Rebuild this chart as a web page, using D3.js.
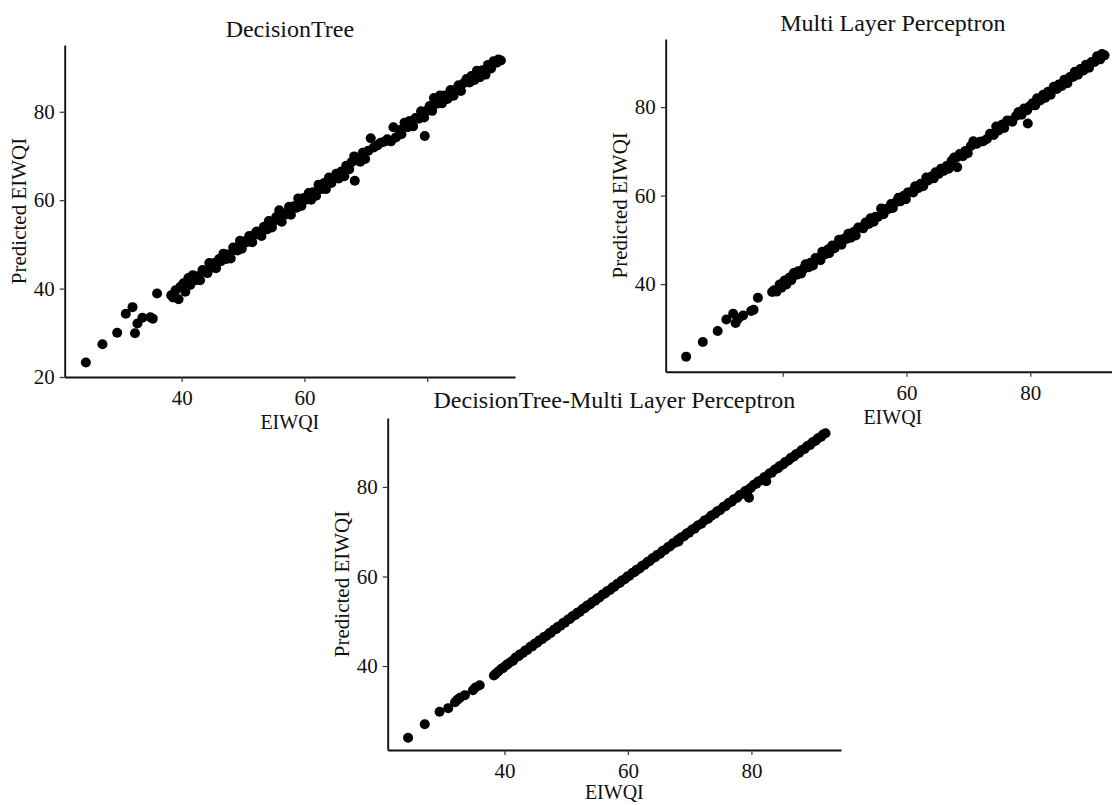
<!DOCTYPE html>
<html>
<head>
<meta charset="utf-8">
<script src="https://cdn.jsdelivr.net/npm/d3@7"></script>
<style>
  html, body { margin: 0; padding: 0; background: #fff; }
  svg { display: block; }
  text { font-family: "Liberation Serif", "Times New Roman", serif; fill: #111; }
</style>
</head>
<body>
<svg id="chart" width="1112" height="805"></svg>
<script>
// ---- Data ----
const panelTitles = ["DecisionTree", "Multi Layer Perceptron", "DecisionTree-Multi Layer Perceptron"];
const xLabel = "EIWQI";
const yLabel = "Predicted EIWQI";
const xTickValues = [40, 60, 80];
const yTicksPanel1 = [20, 40, 60, 80];
const yTicksOther = [40, 60, 80];

const observed = [
  24.4, 27.1, 29.5, 30.9, 32.0, 32.4, 32.8, 33.6, 34.9, 35.3,
  36.0, 38.3, 38.6, 39.0, 39.5, 39.8, 40.3, 40.6, 41.1, 41.4,
  41.8, 42.3, 42.5, 43.0, 43.4, 43.7, 44.2, 44.5, 44.9, 45.3,
  45.6, 46.1, 46.4, 46.8, 47.3, 47.5, 48.0, 48.4, 48.6, 49.1,
  49.5, 49.8, 50.3, 50.6, 51.0, 51.5, 51.8, 52.2, 52.7, 53.0,
  53.4, 53.9, 54.2, 54.7, 55.0, 55.4, 55.9, 56.3, 56.6, 57.1,
  57.5, 57.8, 58.3, 58.7, 59.0, 59.5, 59.9, 60.2, 60.7, 61.1,
  61.4, 61.9, 62.3, 62.7, 63.2, 63.5, 64.0, 64.4, 64.7, 65.2,
  65.6, 66.0, 66.5, 66.8, 67.3, 67.7, 68.1, 68.2, 68.6, 69.1,
  69.5, 69.9, 70.4, 70.8, 71.3, 71.9, 72.4, 73.0, 73.5, 74.1,
  74.5, 74.9, 75.5, 75.8, 76.3, 76.8, 77.1, 77.7, 78.1, 78.6,
  79.0, 79.5, 79.6, 79.9, 80.4, 80.8, 81.1, 81.6, 82.1, 82.4,
  82.9, 83.3, 83.8, 84.3, 84.6, 85.1, 85.5, 86.0, 86.4, 86.9,
  87.2, 87.7, 88.1, 88.6, 89.0, 89.5, 89.9, 90.4, 90.8, 91.3,
  91.6, 92.0
];

const predDecisionTree = [
  23.3, 27.4, 30.0, 34.3, 35.8, 29.9, 32.1, 33.4, 33.5, 33.2,
  38.9, 38.5, 38.0, 39.6, 37.6, 40.4, 41.2, 39.3, 42.4, 40.8,
  43.0, 41.9, 42.8, 41.9, 44.2, 43.8, 43.5, 45.8, 44.7, 45.8,
  44.6, 46.7, 46.2, 47.9, 46.7, 47.7, 46.8, 49.3, 48.7, 48.6,
  50.8, 49.0, 50.7, 50.5, 51.9, 50.5, 52.1, 52.9, 52.3, 51.9,
  54.0, 53.4, 55.3, 53.8, 55.2, 56.2, 57.7, 55.1, 57.0, 56.8,
  58.5, 56.7, 58.6, 58.3, 60.4, 58.7, 60.5, 60.1, 61.6, 60.1,
  61.8, 61.0, 63.5, 62.5, 63.9, 62.5, 65.1, 63.9, 64.8, 66.0,
  64.9, 66.5, 65.4, 67.8, 67.0, 68.6, 69.9, 64.4, 69.2, 68.7,
  70.7, 69.3, 71.2, 74.0, 71.9, 72.4, 73.0, 73.2, 73.8, 73.3,
  76.5, 74.2, 75.9, 74.9, 77.5, 76.5, 77.9, 76.7, 78.6, 78.4,
  80.1, 78.7, 74.5, 80.2, 81.3, 80.2, 83.1, 81.8, 83.7, 81.9,
  83.7, 82.9, 84.9, 83.6, 84.9, 86.0, 84.7, 86.5, 87.4, 86.6,
  88.1, 87.2, 89.3, 87.8, 89.4, 88.4, 90.6, 89.8, 91.4, 91.1,
  91.8, 91.6
];

const predMLP = [
  23.6, 26.9, 29.4, 32.0, 33.3, 31.2, 32.2, 32.9, 33.9, 34.2,
  36.9, 38.2, 38.6, 38.3, 39.9, 39.2, 40.8, 39.9, 41.5, 40.9,
  42.5, 42.1, 42.9, 42.4, 43.5, 44.5, 43.8, 44.8, 44.2, 45.9,
  45.8, 45.4, 47.3, 46.7, 47.8, 47.0, 48.7, 48.1, 48.8, 50.0,
  48.9, 50.2, 50.2, 51.4, 50.5, 51.8, 51.0, 52.8, 52.8, 52.6,
  53.9, 53.6, 54.9, 54.1, 55.2, 55.2, 57.1, 55.8, 57.0, 57.0,
  58.1, 57.2, 58.5, 59.5, 58.7, 59.9, 59.2, 60.7, 60.8, 60.7,
  62.1, 61.7, 62.7, 62.1, 64.1, 63.4, 64.3, 63.9, 65.3, 64.9,
  66.1, 65.6, 66.7, 66.1, 67.9, 68.6, 68.6, 66.4, 69.4, 68.9,
  70.1, 69.6, 71.2, 72.3, 71.7, 72.2, 72.3, 72.8, 74.0, 73.7,
  75.6, 74.7, 76.1, 75.3, 77.0, 76.9, 76.7, 78.0, 78.9, 78.3,
  79.7, 79.3, 76.3, 80.2, 80.9, 80.4, 82.0, 81.5, 82.8, 82.1,
  83.5, 82.8, 84.6, 84.1, 85.1, 84.8, 86.2, 85.4, 86.8, 86.8,
  88.0, 87.3, 88.6, 88.3, 89.6, 88.9, 90.2, 90.2, 91.5, 90.8,
  92.0, 91.7
];

const predCombined = [
  24.0, 27.0, 29.8, 30.6, 31.9, 32.5, 32.9, 33.5, 34.6, 35.2,
  35.7, 37.9, 38.3, 38.8, 39.4, 39.6, 40.2, 40.5, 41.0, 41.2,
  41.9, 42.2, 42.6, 42.9, 43.5, 43.6, 44.3, 44.4, 45.0, 45.2,
  45.7, 46.0, 46.5, 46.7, 47.4, 47.4, 48.1, 48.3, 48.7, 49.0,
  49.6, 49.7, 50.4, 50.5, 51.1, 51.4, 51.9, 52.1, 52.8, 52.9,
  53.5, 53.8, 54.3, 54.6, 55.1, 55.3, 56.0, 56.2, 56.7, 57.0,
  57.6, 57.7, 58.4, 58.6, 59.1, 59.4, 60.0, 60.1, 60.8, 61.0,
  61.5, 61.8, 62.4, 62.6, 63.3, 63.4, 64.1, 64.3, 64.8, 65.1,
  65.7, 65.9, 66.6, 66.7, 67.4, 67.6, 68.2, 67.8, 68.7, 69.0,
  69.6, 69.8, 70.5, 70.7, 71.4, 71.8, 72.5, 72.9, 73.6, 74.0,
  74.6, 74.8, 75.6, 75.7, 76.4, 76.7, 77.2, 77.6, 78.2, 78.5,
  79.1, 79.4, 77.6, 79.8, 80.5, 80.7, 81.2, 81.5, 82.2, 81.3,
  83.0, 83.2, 83.9, 84.2, 84.7, 85.0, 85.6, 85.9, 86.5, 86.8,
  87.3, 87.6, 88.2, 88.5, 89.1, 89.4, 90.0, 90.3, 90.9, 91.2,
  91.7, 92.0
];

// ---- Layout ----
const panels = [
  { title: panelTitles[0], pred: predDecisionTree, left: 64.7, right: 515, top: 45, bottom: 377,
    xDom: [20.95, 94.3], yDom: [20, 95.1], yTicks: yTicksPanel1, titleY: 37, hiddenX: [80], xTitleDy: 52 },
  { title: panelTitles[1], pred: predMLP, left: 665.7, right: 1120, top: 39, bottom: 371.7,
    xDom: [21.1, 94.5], yDom: [20.2, 95.4], yTicks: yTicksOther, titleY: 31, hiddenX: [], xTitleDy: 52 },
  { title: panelTitles[2], pred: predCombined, left: 387.7, right: 841, top: 418, bottom: 750,
    xDom: [21.1, 94.5], yDom: [21.25, 95.4], yTicks: yTicksOther, titleY: 408, hiddenX: [], xTitleDy: 49, cover: true }
];

const svg = d3.select("#chart");
svg.append("rect").attr("width", 1112).attr("height", 805).attr("fill", "#fff");

panels.forEach(p => {
  const g = svg.append("g");
  if (p.cover) {
    g.append("rect").attr("x", 327).attr("y", 386).attr("width", 525).attr("height", 419).attr("fill", "#fff");
  }
  const x = d3.scaleLinear().domain(p.xDom).range([p.left, p.right]);
  const y = d3.scaleLinear().domain(p.yDom).range([p.bottom, p.top]);

  // points
  g.append("g").selectAll("circle")
    .data(observed.map((o, i) => [o, p.pred[i]]))
    .join("circle")
    .attr("cx", d => x(d[0]))
    .attr("cy", d => y(d[1]))
    .attr("r", 5)
    .attr("fill", "#000");

  // axes
  const xa = g.append("g").attr("transform", `translate(0,${p.bottom})`)
    .call(d3.axisBottom(x).tickValues(xTickValues).tickSize(5).tickSizeOuter(0).tickPadding(8)
      .tickFormat(v => p.hiddenX.includes(v) ? "" : d3.format("d")(v)));
  const ya = g.append("g").attr("transform", `translate(${p.left},0)`)
    .call(d3.axisLeft(y).tickValues(p.yTicks).tickSize(5).tickSizeOuter(0).tickPadding(5));
  [xa, ya].forEach(a => {
    a.select(".domain").attr("stroke", "#111").attr("stroke-width", 1.9);
    a.selectAll(".tick line").attr("stroke", "#333").attr("stroke-width", 1.2);
    a.selectAll(".tick text").attr("font-size", 21)
      .attr("font-family", "Liberation Serif, serif").attr("fill", "#111");
  });

  // titles
  g.append("text").attr("x", (p.left + p.right) / 2).attr("y", p.titleY)
    .attr("text-anchor", "middle").attr("font-size", 24).text(p.title);
  g.append("text").attr("x", (p.left + p.right) / 2).attr("y", p.bottom + p.xTitleDy)
    .attr("text-anchor", "middle").attr("font-size", 20).text(xLabel);
  g.append("text")
    .attr("transform", `translate(${p.left - 46},${(p.top + p.bottom) / 2}) rotate(-90)`)
    .attr("text-anchor", "middle").attr("dominant-baseline", "central")
    .attr("font-size", 21).text(yLabel);
});
</script>
</body>
</html>
